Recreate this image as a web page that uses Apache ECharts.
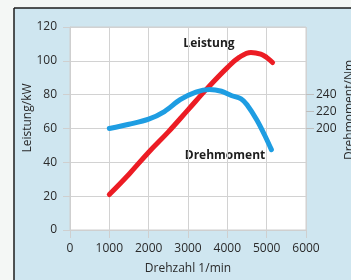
<!DOCTYPE html>
<html>
<head>
<meta charset="utf-8">
<script src="https://cdn.jsdelivr.net/npm/echarts@6/dist/echarts.min.js"></script>
<style>
  html, body { margin: 0; padding: 0; background: #f4f7f5; }
  #chart { width: 351px; height: 280px; }
</style>
</head>
<body>
<div id="chart"></div>
<script>
// Leistung (kW) und Drehmoment (Nm) ueber Drehzahl (1/min)
const leistung = [
  [1000, 21], [1500, 33], [2000, 46], [2500, 58], [3000, 71],
  [3500, 84], [4000, 96], [4300, 102], [4600, 105], [4850, 104], [5000, 102], [5150, 99]
]
const drehmoment = [
  [1000, 200], [1500, 205], [2000, 211], [2400, 220], [2800, 234], [3200, 243],
  [3550, 246], [3850, 244], [4100, 239], [4350, 235], [4500, 228], [4750, 210],
  [4950, 192], [5120, 175]
]
const nmTicks = [200, 220, 240]

const font = 'Open Sans'
const chart = echarts.init(document.getElementById('chart'))

chart.setOption({
  animation: false,
  textStyle: { fontFamily: font },
  grid: {
    left: 70, right: 45, top: 27, bottom: 48,
    show: true,
    backgroundColor: '#ffffff',
    borderColor: '#cfcfcf',
    borderWidth: 1
  },
  graphic: [
    // hellblauer Hintergrund mit schwarzem Rand oben/links
    { type: 'rect', z: -10, shape: { x: 14, y: 8, width: 340, height: 275 }, style: { fill: '#cfe6f0' } },
    { type: 'line', z: -9, shape: { x1: 14, y1: 8, x2: 14, y2: 280 }, style: { stroke: '#1c1c1c', lineWidth: 1.5 } },
    { type: 'line', z: -9, shape: { x1: 14, y1: 8, x2: 351, y2: 8 }, style: { stroke: '#1c1c1c', lineWidth: 1.5 } },
    { type: 'text', x: 28, y: 118, rotation: Math.PI / 2,
      style: { text: 'Leistung/kW', font: '12px ' + font, fill: '#2a2a2a', align: 'center', verticalAlign: 'middle' } },
    { type: 'text', x: 350, y: 110, rotation: Math.PI / 2,
      style: { text: 'Drehmoment/Nm', font: '12px ' + font, fill: '#2a2a2a', align: 'center', verticalAlign: 'middle' } },
    { type: 'text', x: 209, y: 44,
      style: { text: 'Leistung', font: 'bold 12px ' + font, fill: '#1e1e1e', align: 'center', verticalAlign: 'middle' } },
    { type: 'text', x: 225, y: 156,
      style: { text: 'Drehmoment', font: 'bold 12px ' + font, fill: '#1e1e1e', align: 'center', verticalAlign: 'middle' } }
  ],
  xAxis: {
    type: 'value',
    min: 0,
    max: 6000,
    interval: 1000,
    name: 'Drehzahl 1/min',
    nameLocation: 'middle',
    nameGap: 33,
    nameTextStyle: { fontSize: 12, color: '#2a2a2a' },
    axisLine: { show: true, lineStyle: { color: '#cfcfcf' } },
    axisTick: { show: true, length: 8, lineStyle: { color: '#cfcfcf' } },
    axisLabel: { fontSize: 12, color: '#2a2a2a', margin: 13, formatter: v => String(v) },
    splitLine: { show: true, lineStyle: { color: '#d2d2d2' } }
  },
  yAxis: [{
    type: 'value',
    min: 0,
    max: 120,
    interval: 20,
    axisLine: { show: true, lineStyle: { color: '#cfcfcf' } },
    axisTick: { show: true, length: 7, lineStyle: { color: '#cfcfcf' } },
    axisLabel: { fontSize: 12, color: '#2a2a2a', margin: 13 },
    splitLine: { show: true, lineStyle: { color: '#d2d2d2' } }
  }, {
    type: 'value',
    position: 'right',
    min: 80,
    max: 320,
    interval: 20,
    axisLine: { show: false },
    axisTick: { show: true, length: 8, customValues: nmTicks, lineStyle: { color: '#bdbdbd' } },
    axisLabel: { fontSize: 12, color: '#2a2a2a', margin: 10, customValues: nmTicks },
    splitLine: { show: false }
  }],
  series: [{
    name: 'Leistung',
    type: 'line',
    yAxisIndex: 0,
    data: leistung,
    smooth: 0.4,
    symbol: 'none',
    lineStyle: { color: '#ec1c24', width: 5, cap: 'round' }
  }, {
    name: 'Drehmoment',
    type: 'line',
    yAxisIndex: 1,
    data: drehmoment,
    smooth: 0.3,
    symbol: 'none',
    lineStyle: { color: '#1e9de2', width: 5, cap: 'round' }
  }]
})
</script>
</body>
</html>
